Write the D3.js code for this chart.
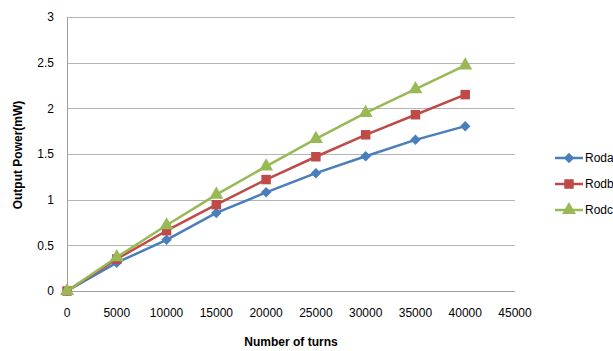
<!DOCTYPE html>
<html><head><meta charset="utf-8">
<script src="https://cdn.jsdelivr.net/npm/d3@7"></script>
<style>body{margin:0;background:#fff;overflow:hidden}svg{display:block}</style>
</head><body>
<svg id="c" width="613" height="351"></svg>
<script>
const turns = [0, 5000, 10000, 15000, 20000, 25000, 30000, 35000, 40000];
const roda = [0, 0.31, 0.56, 0.855, 1.08, 1.29, 1.475, 1.655, 1.805];
const rodb = [0, 0.35, 0.66, 0.945, 1.22, 1.47, 1.71, 1.93, 2.15];
const rodc = [0, 0.37, 0.72, 1.055, 1.365, 1.665, 1.95, 2.21, 2.47];
const seriesNames = ["Roda", "Rodb", "Rodc"];
const xTicks = [0, 5000, 10000, 15000, 20000, 25000, 30000, 35000, 40000, 45000];
const yTicks = [0, 0.5, 1, 1.5, 2, 2.5, 3];

const colors = ["#4a7ebb", "#be4b48", "#98b954"];
const shapes = [d3.symbolDiamond2, d3.symbolSquare, d3.symbolTriangle];
const shapeSize = [70, 90, 85];
const font = "'Liberation Sans', Arial, sans-serif";

const svg = d3.select("#c");
const x = d3.scaleLinear().domain([0, 45000]).range([67, 515]);
const y = d3.scaleLinear().domain([0, 3]).range([291, 17]);

// gridlines
svg.append("g").selectAll("line").data(yTicks.filter(d => d > 0)).join("line")
  .attr("x1", x(0)).attr("x2", x(45000))
  .attr("y1", d => Math.round(y(d)) + 0.5).attr("y2", d => Math.round(y(d)) + 0.5)
  .attr("stroke", "#b4b4b4").attr("stroke-width", 1);

// axes lines
svg.append("line").attr("x1", x(0)).attr("x2", x(45000))
  .attr("y1", Math.round(y(0)) + 0.5).attr("y2", Math.round(y(0)) + 0.5)
  .attr("stroke", "#a0a0a0");
svg.append("line").attr("x1", Math.round(x(0)) + 0.5).attr("x2", Math.round(x(0)) + 0.5)
  .attr("y1", y(3)).attr("y2", y(0)).attr("stroke", "#a0a0a0");

// tick labels
svg.append("g").selectAll("text").data(yTicks).join("text")
  .attr("x", 54).attr("y", d => y(d)).attr("dy", "0.35em")
  .attr("text-anchor", "end").attr("font-family", font).attr("font-size", 12).attr("fill", "#000")
  .text(d => d);
svg.append("g").selectAll("text").data(xTicks).join("text")
  .attr("x", d => x(d)).attr("y", 317)
  .attr("text-anchor", "middle").attr("font-family", font).attr("font-size", 12).attr("fill", "#000")
  .text(d => d);

// titles
svg.append("text").attr("x", 291).attr("y", 346).attr("text-anchor", "middle")
  .attr("font-family", font).attr("font-size", 12).attr("font-weight", "bold").text("Number of turns");
svg.append("text").attr("transform", "translate(22,155) rotate(-90)").attr("text-anchor", "middle")
  .attr("font-family", font).attr("font-size", 12).attr("font-weight", "bold").text("Output Power(mW)");

const all = [roda, rodb, rodc];
const line = d3.line().x((d, i) => x(turns[i])).y(d => y(d));
all.forEach((vals, k) => {
  const g = svg.append("g");
  g.append("path").datum(vals).attr("d", line).attr("fill", "none")
    .attr("stroke", colors[k]).attr("stroke-width", 2.5).attr("stroke-linejoin", "round");
  g.selectAll("path.m").data(vals).join("path").attr("class", "m")
    .attr("transform", (d, i) => `translate(${x(turns[i])},${y(d)})`)
    .attr("d", d3.symbol().type(shapes[k]).size(shapeSize[k]))
    .attr("fill", colors[k]);
});

// legend
const legY = [158, 184, 210];
seriesNames.forEach((n, k) => {
  const g = svg.append("g").attr("transform", `translate(0,${legY[k]})`);
  g.append("line").attr("x1", 555).attr("x2", 583).attr("y1", 0).attr("y2", 0)
    .attr("stroke", colors[k]).attr("stroke-width", 2.5);
  g.append("path").attr("transform", "translate(569,0)")
    .attr("d", d3.symbol().type(shapes[k]).size(shapeSize[k])).attr("fill", colors[k]);
  g.append("text").attr("x", 585).attr("y", 0).attr("dy", "0.35em")
    .attr("font-family", font).attr("font-size", 12).text(n);
});
</script>
</body></html>
